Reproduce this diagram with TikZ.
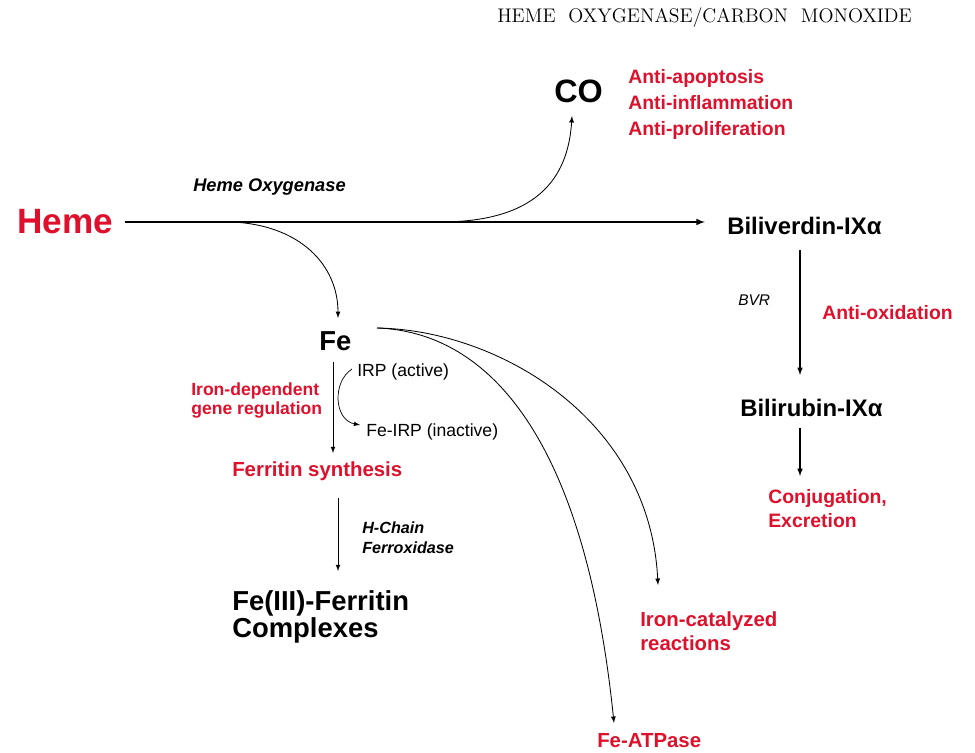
\documentclass[tikz,border=0pt]{standalone}
\usepackage{fontspec}
\setsansfont{Liberation Sans}
\definecolor{hemered}{RGB}{222,16,44}
\begin{document}
\begin{tikzpicture}[x=0.025cm,y=-0.025cm,>=latex]
    \tikzstyle{every node}=[font=\sffamily\bfseries,inner sep=0pt]
    \tikzstyle{red}=[text=hemered]
    \tikzstyle{enz}=[font=\sffamily\bfseries\itshape\fontsize{13}{15}\selectfont]
    \tikzstyle{small}=[font=\sffamily\fontsize{12.5}{15}\selectfont]
    \useasboundingbox (0,0) rectangle (975,753);

    \node[anchor=west,font=\rmfamily\fontsize{14}{16}\selectfont] (title) at (497,18)
    {HEME\ \ OXYGENASE/CARBON\ \ MONOXIDE};

    \node[red,anchor=west,font=\sffamily\bfseries\fontsize{25}{28}\selectfont] (heme) at (17,222) {Heme};
    \node[anchor=west,font=\sffamily\bfseries\fontsize{23}{28}\selectfont] (co) at (554,91) {CO};
    \node[red,anchor=north west,align=left,font=\sffamily\bfseries\fontsize{13.8}{18.5}\selectfont] (coeff) at (628,69)
    {Anti-apoptosis\\Anti-inflammation\\Anti-proliferation};

    \node[enz,anchor=west] (ho) at (193,187) {Heme Oxygenase};
    \node[anchor=west,font=\sffamily\bfseries\fontsize{17}{19}\selectfont] (bv) at (727,226) {Biliverdin-IXα};
    \node[anchor=west,font=\sffamily\itshape\fontsize{11}{13}\selectfont] (bvr) at (738,300) {BVR};
    \node[red,anchor=west,font=\sffamily\bfseries\fontsize{13.8}{16}\selectfont] (antiox) at (822,313) {Anti-oxidation};
    \node[anchor=west,font=\sffamily\bfseries\fontsize{17}{19}\selectfont] (br) at (740,408) {Bilirubin-IXα};
    \node[red,anchor=north west,align=left,font=\sffamily\bfseries\fontsize{13.8}{17}\selectfont] (conj) at (768,489)
    {Conjugation,\\Excretion};

    \node[anchor=west,font=\sffamily\bfseries\fontsize{19.5}{22}\selectfont] (fe) at (319,341) {Fe};
    \node[small,anchor=west] (irp) at (357,372) {IRP (active)};
    \node[small,anchor=west] (feirp) at (366,432) {Fe-IRP (inactive)};
    \node[red,anchor=north west,align=left,font=\sffamily\bfseries\fontsize{12.5}{14}\selectfont] (genereg) at (191,382)
    {Iron-dependent\\gene regulation};
    \node[red,anchor=west,font=\sffamily\bfseries\fontsize{14.5}{17}\selectfont] (ferr) at (232,471) {Ferritin synthesis};
    \node[anchor=north west,align=left,font=\sffamily\bfseries\itshape\fontsize{11.5}{14}\selectfont] (hchain) at (362,522)
    {H-Chain\\Ferroxidase};
    \node[anchor=north west,align=left,font=\sffamily\bfseries\fontsize{19.5}{19.5}\selectfont] (fecompl) at (232,590)
    {Fe(III)-Ferritin\\Complexes};

    \node[red,anchor=north west,align=left,font=\sffamily\bfseries\fontsize{14.5}{17.5}\selectfont] (ironcat) at (640,611)
    {Iron-catalyzed\\reactions};
    \node[red,anchor=west,font=\sffamily\bfseries\fontsize{14.5}{16}\selectfont] (featp) at (597,741) {Fe-ATPase};

    % heme oxygenase reaction
    \coordinate (coout) at (440,222);
    \coordinate (feout) at (232,222);
    \draw[->,line width=1.1pt] (heme.east)+(12,0) -- (705,222);
    \draw[->,line width=0.6pt] (coout) .. controls (535,222) and (568,180) .. (572,116);
    \draw[->,line width=0.6pt] (feout) .. controls (300,225) and (338,265) .. (338,318);

    % bilirubin side
    \draw[->,line width=0.8pt] (800,250) -- (800,375);
    \draw[->,line width=0.8pt] (800,428) -- (800,476);

    % iron side
    \coordinate (fesrc) at (377,328);
    \draw[->,line width=0.5pt] (333,362) -- (333,453);
    \draw[->,line width=0.5pt] (352,369) .. controls (332,382) and (334,420) .. (360,425);
    \draw[->,line width=0.5pt] (338,498) -- (338,571);
    \draw[->,line width=0.6pt] (fesrc) .. controls (500,330) and (650,420) .. (658,585);
    \draw[->,line width=0.6pt] (fesrc) .. controls (490,332) and (585,440) .. (614,723);
\end{tikzpicture}
\end{document}
